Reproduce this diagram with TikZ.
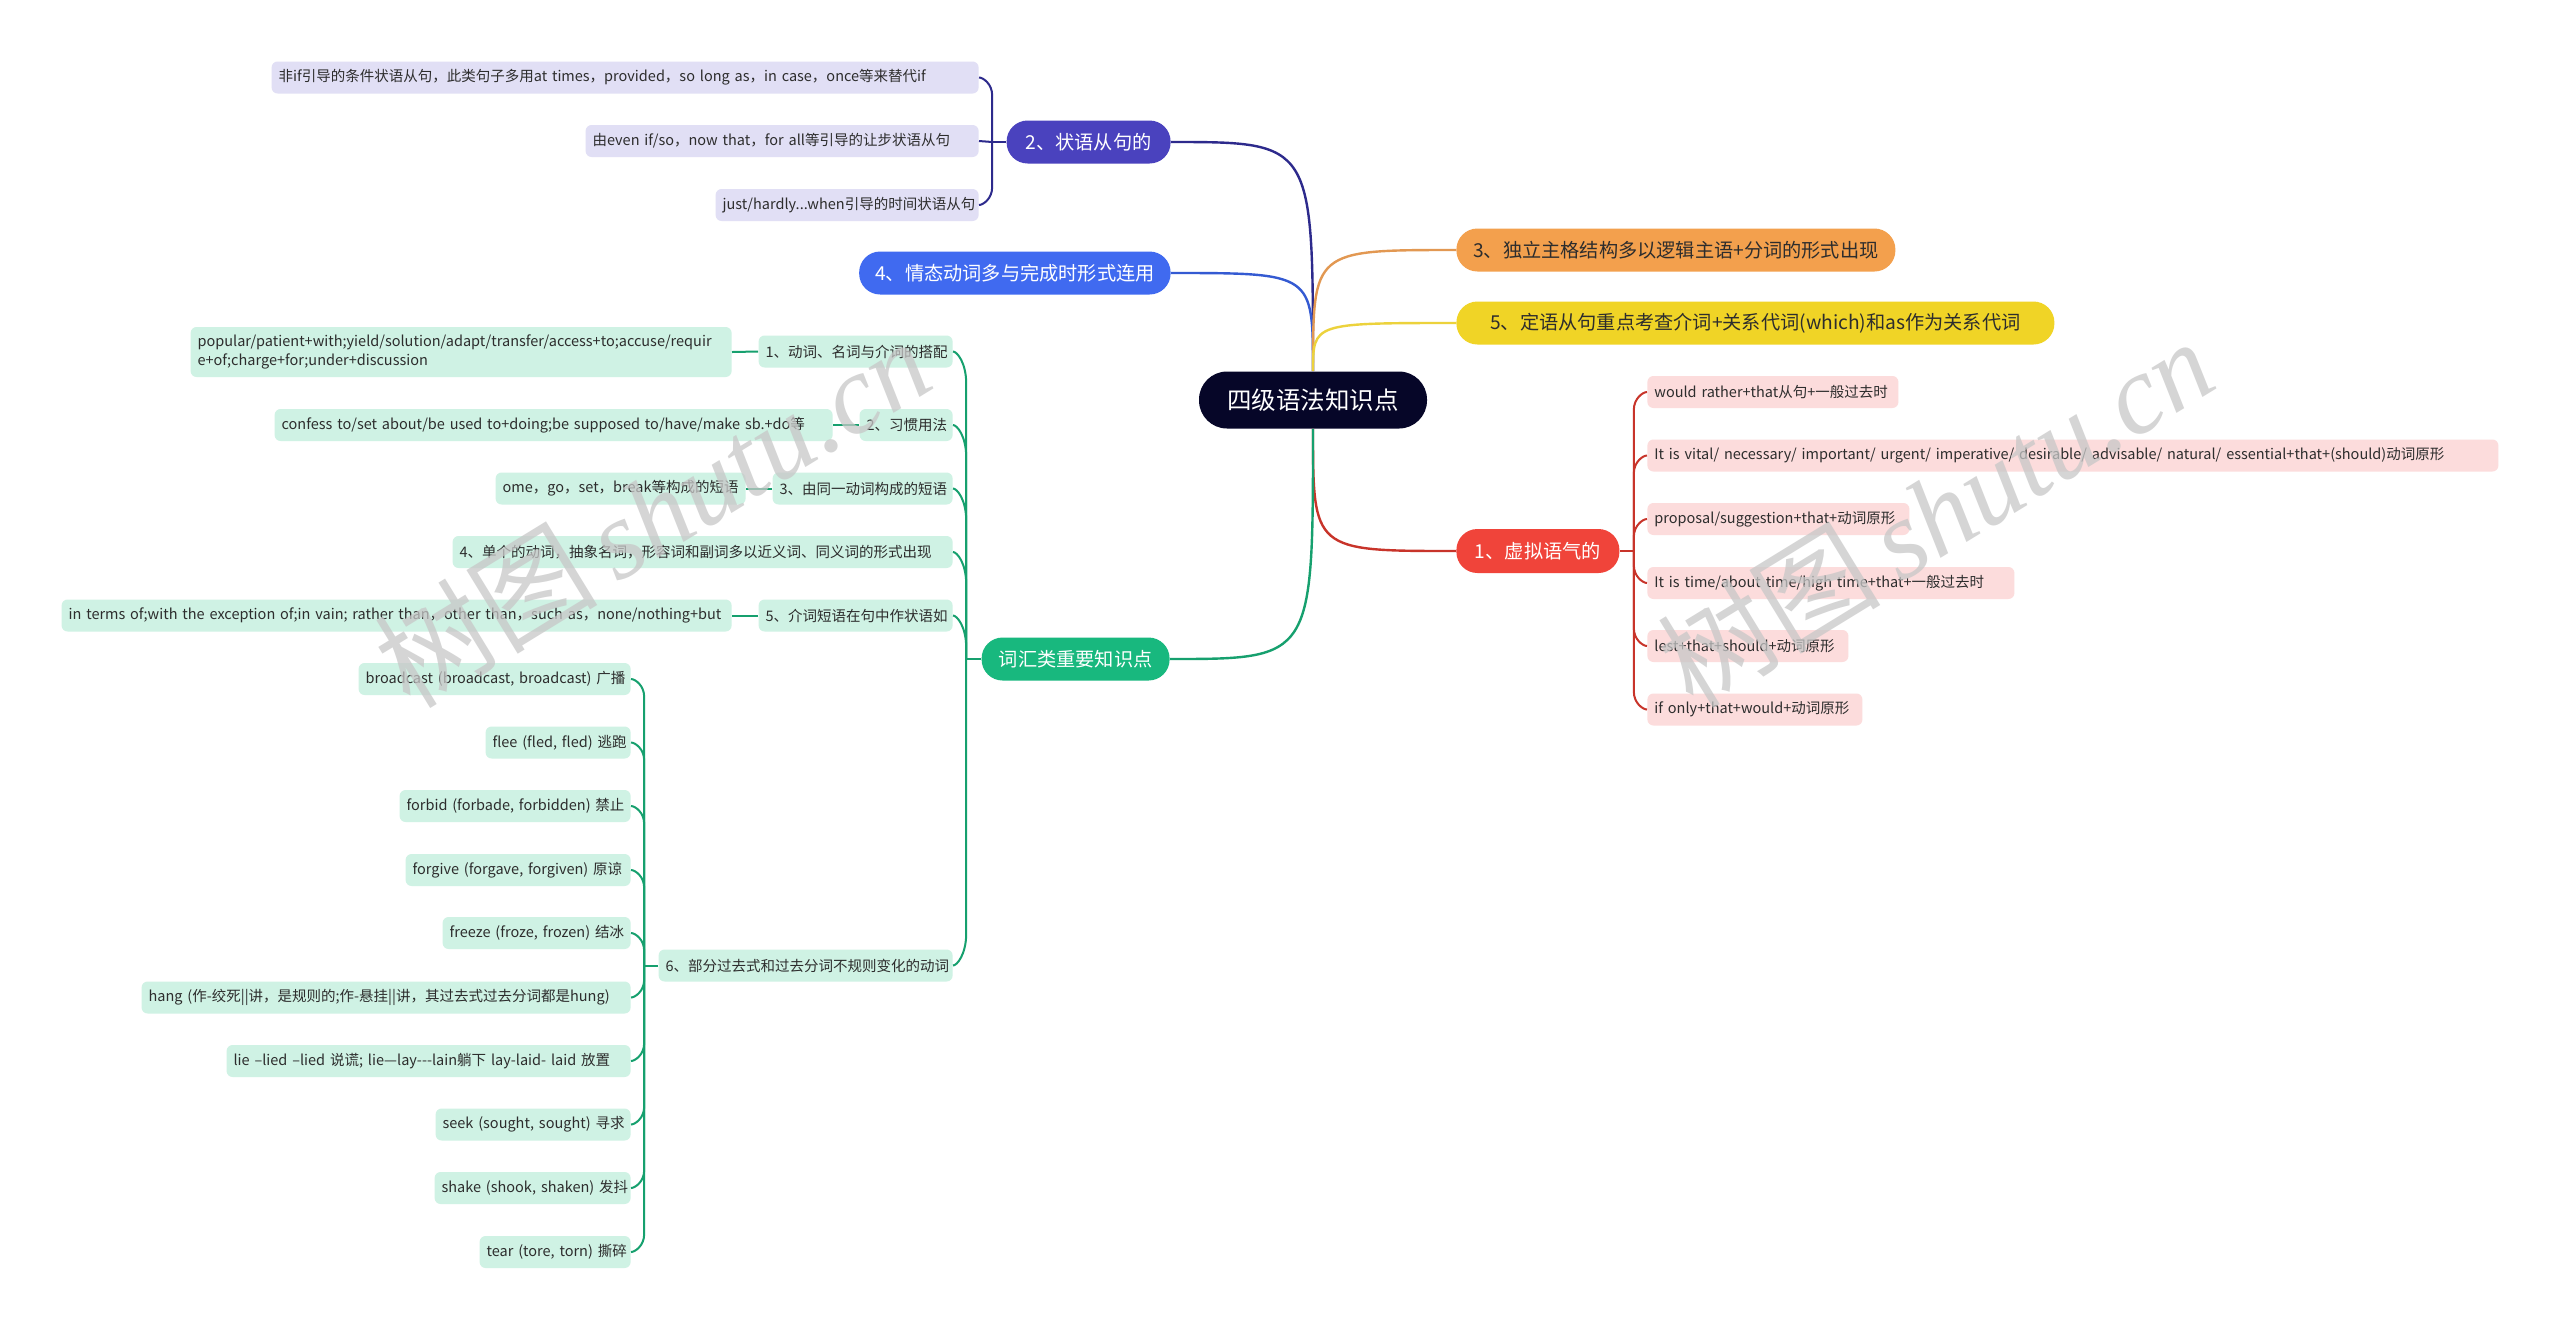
\documentclass[tikz,border=0pt]{standalone}
\usepackage{fontspec}
\setmainfont{Noto Sans CJK SC}
\newfontfamily\wmfont{Liberation Serif}
\definecolor{cNavy}{RGB}{6,6,40}
\definecolor{cIndigo}{RGB}{74,66,190}
\definecolor{lIndigo}{RGB}{45,42,140}
\definecolor{cBlue}{RGB}{64,106,240}
\definecolor{lBlue}{RGB}{52,90,210}
\definecolor{cOrange}{RGB}{243,160,77}
\definecolor{lOrange}{RGB}{226,152,82}
\definecolor{cYellow}{RGB}{240,212,38}
\definecolor{lYellow}{RGB}{236,210,60}
\definecolor{cRed}{RGB}{240,68,58}
\definecolor{lRed}{RGB}{200,52,42}
\definecolor{cGreen}{RGB}{24,184,126}
\definecolor{lGreen}{RGB}{22,160,110}
\definecolor{cLav}{RGB}{225,223,245}
\definecolor{cPink}{RGB}{252,220,220}
\definecolor{cMint}{RGB}{207,242,228}
\definecolor{cText}{RGB}{45,45,45}
% left-side bracket: style, spine coordinate, child node, sign (+1 child above), radius
\newcommand\lbr[5]{\draw[#1] (#2) -- ([yshift={-(#4)*#5}]#2 |- #3.east) .. controls ([yshift={-(#4)*0.35*#5}]#2 |- #3.east) and ([xshift=2pt]#3.east) .. (#3.east);}
% right-side bracket
\newcommand\rbr[5]{\draw[#1] (#2) -- ([yshift={-(#4)*#5}]#2 |- #3.west) .. controls ([yshift={-(#4)*0.35*#5}]#2 |- #3.west) and ([xshift=-2pt]#3.west) .. (#3.west);}
\newcommand\T[1]{\mbox{#1}}
\begin{document}
\begin{tikzpicture}[x=0.5pt,y=-0.5pt,
  rootbox/.style={fill=cNavy, text=white, rounded corners=14pt, minimum height=28.5pt, minimum width=114pt, inner sep=0pt, font=\fontsize{12.25}{14}\selectfont},
  mainbox/.style={rounded corners=10.5pt, minimum height=21.5pt, inner xsep=8pt, inner ysep=0pt, font=\fontsize{9.6}{11}\selectfont},
  leafbox/.style={rounded corners=3pt, minimum height=16pt, inner xsep=3.5pt, inner ysep=3pt, align=left, text=cText, font=\fontsize{7.25}{9.2}\selectfont},
  conn/.style={line width=1.2pt},
  sub/.style={line width=1pt},
  wm/.style={rotate=31.5, text=black!22, opacity=0.75, font=\fontsize{56}{60}\selectfont}
]
\useasboundingbox (0,0) rectangle (2560,1330);
\fill[white] (0,0) rectangle (2560,1330);

% root
\node[rootbox] (c) at (1313,400) {四级语法知识点};

% main branches
\node[mainbox, fill=cIndigo, text=white, minimum width=82pt, anchor=east] (n2) at (1171,142) {2、状语从句的};
\node[mainbox, fill=cBlue, text=white, minimum width=155.5pt, anchor=east] (n4) at (1171,273) {4、情态动词多与完成时形式连用};
\node[mainbox, fill=cOrange, text=cText, minimum width=219.5pt, anchor=west] (n3) at (1456,250) {3、独立主格结构多以逻辑主语+分词的形式出现};
\node[mainbox, fill=cYellow, text=cText, minimum width=299pt, anchor=west] (n5) at (1456,323) {5、定语从句重点考查介词+关系代词(which)和as作为关系代词};
\node[mainbox, fill=cRed, text=white, minimum width=81.5pt, minimum height=22pt, anchor=west] (n1) at (1456,551) {1、虚拟语气的};
\node[mainbox, fill=cGreen, text=white, minimum width=94pt, anchor=east] (nv) at (1170,659) {词汇类重要知识点};

% root connectors
\draw[conn, lIndigo] (c.north) .. controls (c.north |- n2.east) .. (n2.east);
\draw[conn, lBlue] (c.north) .. controls (c.north |- n4.east) .. (n4.east);
\draw[conn, lOrange] (c.north) .. controls (c.north |- n3.west) .. (n3.west);
\draw[conn, lYellow] (c.north) .. controls (c.north |- n5.west) .. (n5.west);
\draw[conn, lRed] (c.south) .. controls (c.south |- n1.west) .. (n1.west);
\draw[conn, lGreen] (c.south) .. controls (c.south |- nv.east) .. (nv.east);

% branch 2 leaves
\node[leafbox, fill=cLav, text width=346.5pt, anchor=east] (la) at (979,77.5) {\T{非if引导的条件状语从句，此类句子多用at times，provided，so long as，in case，once等来替代if}};
\node[leafbox, fill=cLav, text width=189.5pt, anchor=east] (lb) at (979,141) {\T{由even if/so，now that，for all等引导的让步状语从句}};
\node[leafbox, fill=cLav, text width=124.5pt, anchor=east] (lc) at (979,205) {\T{just/hardly...when引导的时间状语从句}};
\coordinate (s2) at ([xshift=-7pt]n2.west);
\draw[sub, lIndigo] (n2.west) -- (s2);
\lbr{sub, lIndigo}{s2}{la}{1}{9pt}
\draw[sub, lIndigo] (s2) -- (lb.east);
\lbr{sub, lIndigo}{s2}{lc}{-1}{9pt}

% branch 1 leaves
\node[leafbox, fill=cPink, text width=118.5pt, anchor=west] (ra) at (1647,392) {\T{would rather+that从句+一般过去时}};
\node[leafbox, fill=cPink, text width=418.5pt, anchor=west] (rb) at (1647,455.5) {\T{It is vital/ necessary/ important/ urgent/ imperative/ desirable/ advisable/ natural/ essential+that+(should)动词原形}};
\node[leafbox, fill=cPink, text width=124pt, anchor=west] (rc) at (1647,519) {\T{proposal/suggestion+that+动词原形}};
\node[leafbox, fill=cPink, text width=176.5pt, anchor=west] (rd) at (1647,583) {\T{It is time/about time/high time+that+一般过去时}};
\node[leafbox, fill=cPink, text width=93.5pt, anchor=west] (re) at (1647,646) {\T{lest+that+should+动词原形}};
\node[leafbox, fill=cPink, text width=100.5pt, anchor=west] (rf) at (1647,709.5) {\T{if only+that+would+动词原形}};
\coordinate (s1) at ([xshift=7pt]n1.east);
\draw[sub, lRed] (n1.east) -- (s1);
\rbr{sub, lRed}{s1}{ra}{1}{9pt}
\rbr{sub, lRed}{s1}{rb}{1}{9pt}
\rbr{sub, lRed}{s1}{rc}{1}{9pt}
\rbr{sub, lRed}{s1}{rd}{-1}{9pt}
\rbr{sub, lRed}{s1}{re}{-1}{9pt}
\rbr{sub, lRed}{s1}{rf}{-1}{9pt}

% vocabulary branch
\node[leafbox, fill=cMint, text width=90pt, anchor=east] (g1) at (953,351.5) {\T{1、动词、名词与介词的搭配}};
\node[leafbox, fill=cMint, text width=39.5pt, anchor=east] (g2) at (953,425) {\T{2、习惯用法}};
\node[leafbox, fill=cMint, text width=83pt, anchor=east] (g3) at (953,488.5) {\T{3、由同一动词构成的短语}};
\node[leafbox, fill=cMint, text width=243pt, anchor=east] (g4) at (953,552) {\T{4、单个的动词，抽象名词，形容词和副词多以近义词、同义词的形式出现}};
\node[leafbox, fill=cMint, text width=90pt, anchor=east] (g5) at (953,615.5) {\T{5、介词短语在句中作状语如}};
\node[leafbox, fill=cMint, text width=140pt, anchor=east] (g6) at (953,965.5) {\T{6、部分过去式和过去分词不规则变化的动词}};
\coordinate (sv) at ([xshift=-7.5pt]nv.west);
\draw[sub, lGreen] (nv.west) -- (sv);
\lbr{sub, lGreen}{sv}{g1}{1}{16pt}
\lbr{sub, lGreen}{sv}{g2}{1}{16pt}
\lbr{sub, lGreen}{sv}{g3}{1}{16pt}
\lbr{sub, lGreen}{sv}{g4}{1}{16pt}
\lbr{sub, lGreen}{sv}{g5}{1}{16pt}
\lbr{sub, lGreen}{sv}{g6}{-1}{16pt}

\node[leafbox, fill=cMint, text width=263.5pt, minimum height=25pt, anchor=east] (gg1) at (732,352) {popular/patient+with;yield/solution/adapt/transfer/access+to;accuse/requir\\e+of;charge+for;under+discussion};
\node[leafbox, fill=cMint, text width=272pt, anchor=east] (gg2) at (833,425) {\T{confess to/set about/be used to+doing;be supposed to/have/make sb.+do等}};
\node[leafbox, fill=cMint, text width=118pt, anchor=east] (gg3) at (746,488.5) {\T{ome，go，set，break等构成的短语}};
\node[leafbox, fill=cMint, text width=328pt, anchor=east] (gg5) at (732,615.5) {\T{in terms of;with the exception of;in vain; rather than，other than，such as，none/nothing+but}};
\draw[sub, lGreen] (g1.west) -- (gg1.east);
\draw[sub, lGreen] (g2.west) -- (gg2.east);
\draw[sub, lGreen] (g3.west) -- (gg3.east);
\draw[sub, lGreen] (g5.west) -- (gg5.east);

% irregular verbs
\node[leafbox, fill=cMint, text width=129pt, anchor=east] (va) at (631,679) {\T{broadcast (broadcast, broadcast) 广播}};
\node[leafbox, fill=cMint, text width=65.5pt, anchor=east] (vb) at (631,742.5) {\T{flee (fled, fled) 逃跑}};
\node[leafbox, fill=cMint, text width=108.5pt, anchor=east] (vc) at (631,806) {\T{forbid (forbade, forbidden) 禁止}};
\node[leafbox, fill=cMint, text width=105.5pt, anchor=east] (vd) at (631,870) {\T{forgive (forgave, forgiven) 原谅}};
\node[leafbox, fill=cMint, text width=87pt, anchor=east] (ve) at (631,933) {\T{freeze (froze, frozen) 结冰}};
\node[leafbox, fill=cMint, text width=237.5pt, anchor=east] (vf) at (631,997.5) {\T{hang (作-绞死||讲，是规则的;作-悬挂||讲，其过去式过去分词都是hung)}};
\node[leafbox, fill=cMint, text width=195pt, anchor=east] (vg) at (631,1061) {\T{lie –lied –lied 说谎; lie—lay-{}-{}-lain躺下 lay-laid- laid 放置}};
\node[leafbox, fill=cMint, text width=90.5pt, anchor=east] (vh) at (631,1124.5) {\T{seek (sought, sought) 寻求}};
\node[leafbox, fill=cMint, text width=91pt, anchor=east] (vi) at (631,1188) {\T{shake (shook, shaken) 发抖}};
\node[leafbox, fill=cMint, text width=68.5pt, anchor=east] (vj) at (631,1252) {\T{tear (tore, torn) 撕碎}};
\coordinate (s6) at ([xshift=-7pt]g6.west);
\draw[sub, lGreen] (g6.west) -- (s6);
\lbr{sub, lGreen}{s6}{va}{1}{9pt}
\lbr{sub, lGreen}{s6}{vb}{1}{9pt}
\lbr{sub, lGreen}{s6}{vc}{1}{9pt}
\lbr{sub, lGreen}{s6}{vd}{1}{9pt}
\lbr{sub, lGreen}{s6}{ve}{1}{9pt}
\lbr{sub, lGreen}{s6}{vf}{-1}{9pt}
\lbr{sub, lGreen}{s6}{vg}{-1}{9pt}
\lbr{sub, lGreen}{s6}{vh}{-1}{9pt}
\lbr{sub, lGreen}{s6}{vi}{-1}{9pt}
\lbr{sub, lGreen}{s6}{vj}{-1}{9pt}

% watermarks
\node[wm] (wm1) at (652,512) {树图\,{\wmfont\itshape shutu.cn}};
\node[wm] (wm2) at (1935,512) {树图\,{\wmfont\itshape shutu.cn}};
\end{tikzpicture}
\end{document}
